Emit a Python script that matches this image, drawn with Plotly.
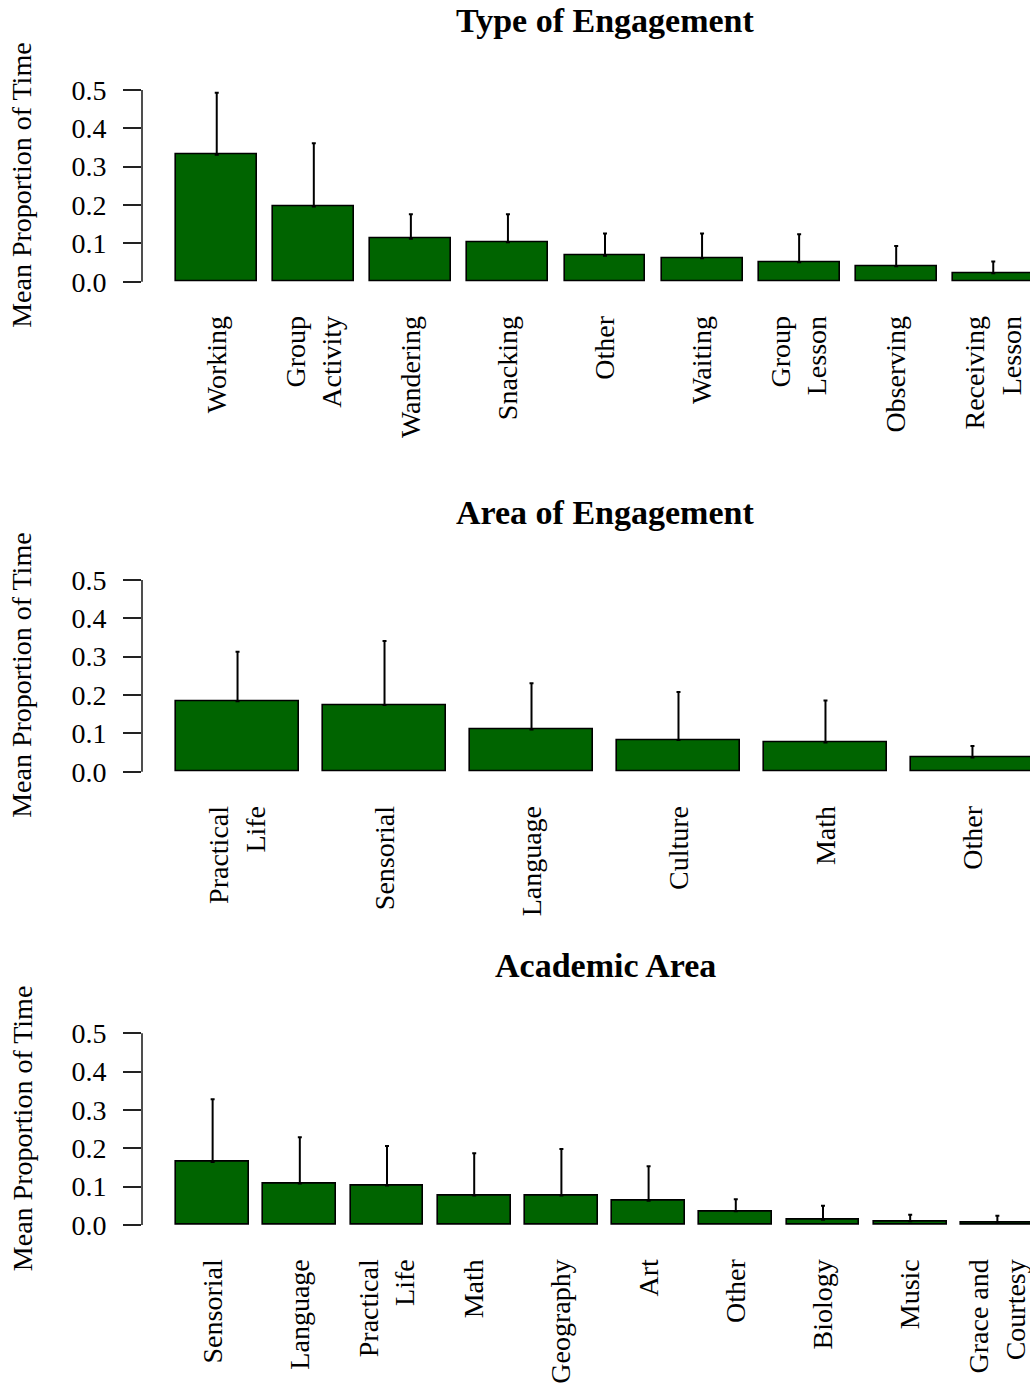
import plotly.graph_objects as go

# ---- data -------------------------------------------------------------
type_labels = ["Working", "Group<br>Activity", "Wandering", "Snacking", "Other",
               "Waiting", "Group<br>Lesson", "Observing", "Receiving<br>Lesson"]
type_means = [0.331, 0.196, 0.112, 0.103, 0.068, 0.061, 0.051, 0.040, 0.022]
type_upper = [0.493, 0.361, 0.176, 0.176, 0.126, 0.126, 0.124, 0.093, 0.053]

area_labels = ["Practical<br>Life", "Sensorial", "Language", "Culture", "Math", "Other"]
area_means = [0.184, 0.174, 0.110, 0.083, 0.076, 0.037]
area_upper = [0.313, 0.341, 0.231, 0.208, 0.186, 0.067]

acad_labels = ["Sensorial", "Language", "Practical<br>Life", "Math", "Geography", "Art",
               "Other", "Biology", "Music", "Grace and<br>Courtesy"]
acad_means = [0.164, 0.108, 0.103, 0.077, 0.077, 0.063, 0.036, 0.014, 0.010, 0.007]
acad_upper = [0.328, 0.229, 0.206, 0.187, 0.198, 0.153, 0.067, 0.050, 0.027, 0.024]

panel_titles = ["Type of Engagement", "Area of Engagement", "Academic Area"]
y_tick_vals = [0.0, 0.1, 0.2, 0.3, 0.4, 0.5]
y_title = "Mean Proportion of Time"

# ---- layout constants -------------------------------------------------
W, H = 1030, 1386
FONT = "Liberation Serif"
BAR_FILL = "#006400"
AXIS_COL = "#222222"
PLOT_LEFT_PX = 142          # left edge of every plotting region
PLOT_RIGHT_PX = 1068        # right edge of the full region (page is narrower)
# pixel rows of the 0.0 and 0.5 ticks for each panel
zero_px = [281.7, 771.7, 1225.0]
half_px = [90.0, 580.0, 1033.3]
title_px = [21, 512, 965]
YPAD = 0.02

panels = [
    (type_labels, type_means, type_upper),
    (area_labels, area_means, area_upper),
    (acad_labels, acad_means, acad_upper),
]

fig = go.Figure()
layout = dict(
    width=W, height=H,
    margin=dict(l=0, r=0, t=0, b=0, autoexpand=False),
    paper_bgcolor="white", plot_bgcolor="white",
    showlegend=False,
    font=dict(family=FONT, size=28, color="black"),
    bargap=0,
)
shapes, annotations = [], []

for i, (labels, means, upper) in enumerate(panels):
    k = "" if i == 0 else str(i + 1)
    n = len(labels)
    # barplot geometry: width 1, space 0.2
    centers = [0.7 + 1.2 * j for j in range(n)]
    err_plus = [u - m for u, m in zip(upper, means)]

    fig.add_trace(go.Bar(
        x=centers, y=means, width=[1.0] * n,
        marker=dict(color=BAR_FILL, line=dict(color="black", width=1.6)),
        error_y=dict(type="data", symmetric=False, array=err_plus,
                     arrayminus=[0] * n, color="black", thickness=2, width=2),
        xaxis="x" + k, yaxis="y" + k, hoverinfo="skip",
    ))

    # x range: 4% padding on each side, cut at the page edge
    lo_edge, hi_edge = 0.2, 1.2 * n
    pad = 0.04 * (hi_edge - lo_edge)
    full_lo, full_hi = lo_edge - pad, hi_edge + pad
    frac = (W - PLOT_LEFT_PX) / (PLOT_RIGHT_PX - PLOT_LEFT_PX)
    vis_hi = full_lo + (full_hi - full_lo) * frac

    ppu = (zero_px[i] - half_px[i]) / 0.5
    top_px = half_px[i] - YPAD * ppu
    bot_px = zero_px[i] + YPAD * ppu
    ydom = [1 - bot_px / H, 1 - top_px / H]

    layout["xaxis" + k] = dict(
        domain=[PLOT_LEFT_PX / W, 1], anchor="y" + k,
        range=[full_lo, vis_hi], tickvals=centers, ticktext=labels,
        tickangle=-90, ticks="", showline=False, showgrid=False,
        zeroline=False, ticklabelstandoff=20, automargin=False,
        ticklabeloverflow="allow",
        tickfont=dict(family=FONT, size=28, color="black"),
    )
    layout["yaxis" + k] = dict(
        domain=ydom, anchor="x" + k,
        range=[-YPAD, 0.5 + YPAD], tickvals=y_tick_vals,
        ticktext=[f"{v:.1f}" for v in y_tick_vals],
        ticks="outside", ticklen=18, tickwidth=1.6, tickcolor=AXIS_COL,
        showline=False, showgrid=False, zeroline=False,
        ticklabelstandoff=11, automargin=False,
        tickfont=dict(family=FONT, size=28, color="black"),
    )
    # R-style axis line spanning only the tick range
    shapes.append(dict(type="line", xref="x" + k + " domain", yref="y" + k,
                       x0=0, x1=0, y0=0, y1=0.5,
                       line=dict(color=AXIS_COL, width=1.6)))
    annotations.append(dict(
        text=y_title, textangle=-90, showarrow=False,
        xref="paper", yref="y" + k, x=22 / W, y=0.25,
        xanchor="center", yanchor="middle",
        font=dict(family=FONT, size=28, color="black"),
    ))
    annotations.append(dict(
        text="<b>" + panel_titles[i] + "</b>", showarrow=False,
        xref="paper", yref="paper",
        x=((PLOT_LEFT_PX + PLOT_RIGHT_PX) / 2) / W, y=1 - title_px[i] / H,
        xanchor="center", yanchor="middle",
        font=dict(family=FONT, size=34, color="black"),
    ))

layout["shapes"] = shapes
layout["annotations"] = annotations
fig.update_layout(**layout)
fig.write_html("out.html")
